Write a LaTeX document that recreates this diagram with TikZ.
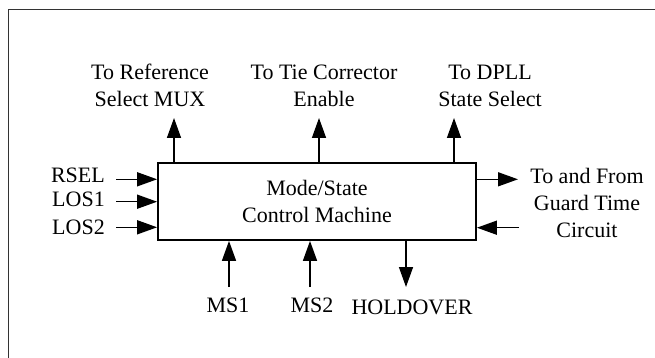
\documentclass[tikz,border=0pt]{standalone}
\usepackage{fontspec}
\setmainfont{Liberation Serif}
\usetikzlibrary{arrows.meta}
\begin{document}
\begin{tikzpicture}[x=1pt,y=-1pt,
  lbl/.style={font=\fontsize{22}{27}\selectfont, align=center, inner sep=0pt},
  sig/.style={line width=1.5pt, -{Triangle[length=20pt,width=14pt]}},
  block/.style={draw, line width=1.8pt, minimum width=318pt, minimum height=77pt, inner sep=0pt}]
\useasboundingbox (0,0) rectangle (655,358);
\clip (0,0) rectangle (655,358);
\draw[line width=1.6pt, black!80] (8.5,358) -- (8.5,9.5) -- (655,9.5);
\node[block] (box) at (317,201.5) {};
\node[lbl] (boxtxt) at (317,201.5) {Mode/State\\Control Machine};
% top outputs
\coordinate (t1) at (174,118);
\coordinate (t2) at (319,118);
\coordinate (t3) at (454,118);
\draw[sig] (box.north -| t1) -- (t1);
\draw[sig] (box.north -| t2) -- (t2);
\draw[sig] (box.north -| t3) -- (t3);
\node[lbl] (ref) at (150,85.5) {To Reference\\Select MUX};
\node[lbl] (tie) at (324,85.5) {To Tie Corrector\\Enable};
\node[lbl] (dpll) at (490,85.5) {To DPLL\\State Select};
% left inputs
\node[lbl, anchor=east] (rsel) at (105,175) {RSEL};
\node[lbl, anchor=east] (los1) at (105,199) {LOS1};
\node[lbl, anchor=east] (los2) at (105,227.5) {LOS2};
\coordinate (l1) at (116,179.3);
\coordinate (l2) at (116,201.7);
\coordinate (l3) at (116,227.3);
\draw[sig] (l1) -- (l1 -| box.west);
\draw[sig] (l2) -- (l2 -| box.west);
\draw[sig] (l3) -- (l3 -| box.west);
% right
\node[lbl] (guard) at (587,202.5) {To and From\\Guard Time\\Circuit};
\coordinate (r1) at (518,179.3);
\coordinate (r2) at (519,227.7);
\draw[sig] (r1 -| box.east) -- (r1);
\draw[sig] (r2) -- (r2 -| box.east);
% bottom
\coordinate (b1) at (229,287);
\coordinate (b2) at (310,287);
\coordinate (b3) at (406,287);
\draw[sig] (b1) -- (b1 |- box.south);
\draw[sig] (b2) -- (b2 |- box.south);
\draw[sig] (box.south -| b3) -- (b3);
\node[lbl] (ms1) at (228,305) {MS1};
\node[lbl] (ms2) at (312,305) {MS2};
\node[lbl] (hold) at (412,307) {HOLDOVER};
\end{tikzpicture}
\end{document}
